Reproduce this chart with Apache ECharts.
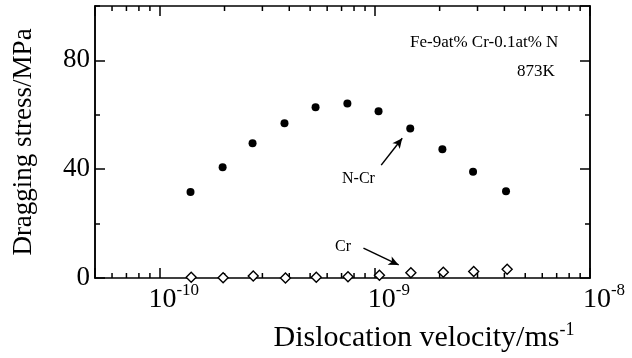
<!DOCTYPE html>
<html>
<head>
<meta charset="utf-8">
<script src="https://cdn.jsdelivr.net/npm/echarts@6/dist/echarts.min.js"></script>
<style>html,body{margin:0;padding:0;background:#fff;}#c{width:632px;height:358px;}</style>
</head>
<body>
<div id="c"></div>
<script>
// Dislocation velocity (m/s)
var velocityNCr = [1.39e-10, 1.96e-10, 2.70e-10, 3.80e-10, 5.30e-10, 7.45e-10, 1.04e-9, 1.46e-9, 2.06e-9, 2.86e-9, 4.07e-9];
var stressNCr   = [31.6, 40.7, 49.5, 56.9, 62.8, 64.2, 61.3, 55.0, 47.3, 39.1, 31.9];
var velocityCr  = [1.40e-10, 1.97e-10, 2.72e-10, 3.84e-10, 5.34e-10, 7.50e-10, 1.05e-9, 1.47e-9, 2.08e-9, 2.88e-9, 4.12e-9];
var stressCr    = [0.3, 0.1, 0.7, 0.0, 0.3, 0.5, 1.0, 1.9, 2.1, 2.4, 3.2];
var xMinorTicks = [6e-11, 7e-11, 8e-11, 9e-11,
                   2e-10, 3e-10, 4e-10, 5e-10, 6e-10, 7e-10, 8e-10, 9e-10,
                   2e-9, 3e-9, 4e-9, 5e-9, 6e-9, 7e-9, 8e-9, 9e-9];
// arrow annotations, data space [velocity, stress]
var arrowNCr = [[1.07e-9, 41.5], [1.34e-9, 51.4]];
var arrowCr  = [[8.85e-10, 11.0], [1.29e-9, 4.8]];

var FONT = "'Liberation Serif', 'Times New Roman', serif";
var chart = echarts.init(document.getElementById('c'));

function xLabel(v) {
  var e = Math.log10(v);
  var r = Math.round(e);
  if (Math.abs(e - r) > 1e-6) return '';
  return '{b|10}{s|' + r + '}';
}

var lineStyle = {color: '#000', width: 1.5};
function xAxisCfg(pos, showLabel) {
  return {
    type: 'log', logBase: 10, min: 5e-11, max: 1e-8, splitNumber: 3, position: pos,
    axisLine: {show: true, onZero: false, lineStyle: lineStyle},
    axisTick: {show: true, inside: true, length: 10, lineStyle: lineStyle},
    minorTick: {show: false},
    splitLine: {show: false},
    axisLabel: showLabel ? {
      show: true, margin: 4, formatter: xLabel, padding: [0, 0, 0, 28],
      rich: {
        b: {fontFamily: FONT, fontSize: 28, color: '#000', lineHeight: 32, verticalAlign: 'bottom', padding: [12, 0, 0, 0]},
        s: {fontFamily: FONT, fontSize: 17, color: '#000', lineHeight: 20, verticalAlign: 'top'}
      }
    } : {show: false}
  };
}
function yAxisCfg(pos, interval, len, showLabel) {
  return {
    type: 'value', min: 0, max: 100, interval: interval, position: pos,
    axisLine: {show: true, lineStyle: lineStyle},
    axisTick: {show: true, inside: true, length: len, lineStyle: lineStyle},
    splitLine: {show: false},
    axisLabel: showLabel ? {show: true, showMaxLabel: false, margin: 5, fontFamily: FONT, fontSize: 27, color: '#000'} : {show: false}
  };
}

var xa0 = xAxisCfg('bottom', true);
xa0.name = 'Dislocation velocity/ms{s|-1}';
xa0.nameLocation = 'middle';
xa0.nameGap = 43;
xa0.nameTextStyle = {fontFamily: FONT, fontSize: 30, color: '#000', padding: [0, 0, 0, 163],
  rich: {s: {fontFamily: FONT, fontSize: 18, color: '#000', verticalAlign: 'top', padding: [0, 0, 16, 0]}}};
var ya0 = yAxisCfg('left', 40, 10, true);
ya0.name = 'Dragging stress/MPa';
ya0.nameLocation = 'middle';
ya0.nameGap = 58;
ya0.nameTextStyle = {fontFamily: FONT, fontSize: 27, color: '#000'};

var arrowStyle = {color: '#000', width: 1.5, type: 'solid', opacity: 1};

var option = {
  animation: false,
  backgroundColor: '#fff',
  grid: {left: 95, right: 42, top: 6, bottom: 79, containLabel: false},
  xAxis: [xa0, xAxisCfg('top', false)],
  yAxis: [ya0, yAxisCfg('left', 20, 5, false), yAxisCfg('right', 40, 10, false), yAxisCfg('right', 20, 5, false)],
  series: [
    {
      type: 'scatter', name: 'N-Cr', xAxisIndex: 0, yAxisIndex: 0,
      data: velocityNCr.map(function (v, i) { return [v, stressNCr[i]]; }),
      symbol: 'circle', symbolSize: 8, itemStyle: {color: '#000', opacity: 1},
      markLine: {
        silent: true, symbol: ['none', 'arrow'], symbolSize: [7, 10], label: {show: false},
        lineStyle: arrowStyle,
        data: [
          [{coord: arrowNCr[0]}, {coord: arrowNCr[1]}],
          [{coord: arrowCr[0]}, {coord: arrowCr[1]}]
        ]
      }
    },
    {
      type: 'scatter', name: 'Cr', xAxisIndex: 0, yAxisIndex: 0,
      data: velocityCr.map(function (v, i) { return [v, stressCr[i]]; }),
      symbol: 'diamond', symbolSize: [10, 10],
      itemStyle: {color: '#fff', borderColor: '#000', borderWidth: 1.4, opacity: 1},
      z: 3
    },
    {
      type: 'custom', xAxisIndex: 0, yAxisIndex: 0, silent: true,
      data: xMinorTicks.map(function (v) { return [v, 0]; }),
      renderItem: function (params, api) {
        var cs = params.coordSys;
        var px = api.coord([api.value(0), 0])[0];
        var yb = cs.y + cs.height, yt = cs.y;
        return {
          type: 'group',
          children: [
            {type: 'line', shape: {x1: px, y1: yb, x2: px, y2: yb - 5}, style: {stroke: '#000', lineWidth: 1.5}},
            {type: 'line', shape: {x1: px, y1: yt, x2: px, y2: yt + 5}, style: {stroke: '#000', lineWidth: 1.5}}
          ]
        };
      }
    }
  ],
  graphic: [
    {type: 'text', left: 410, top: 34, style: {text: 'Fe-9at% Cr-0.1at% N', font: '17px ' + FONT, fill: '#000'}},
    {type: 'text', left: 517, top: 63, style: {text: '873K', font: '17px ' + FONT, fill: '#000'}},
    {type: 'text', left: 342, top: 171, style: {text: 'N-Cr', font: '16px ' + FONT, fill: '#000'}},
    {type: 'text', left: 335, top: 239, style: {text: 'Cr', font: '16px ' + FONT, fill: '#000'}}
  ]
};
chart.setOption(option);
</script>
</body>
</html>
